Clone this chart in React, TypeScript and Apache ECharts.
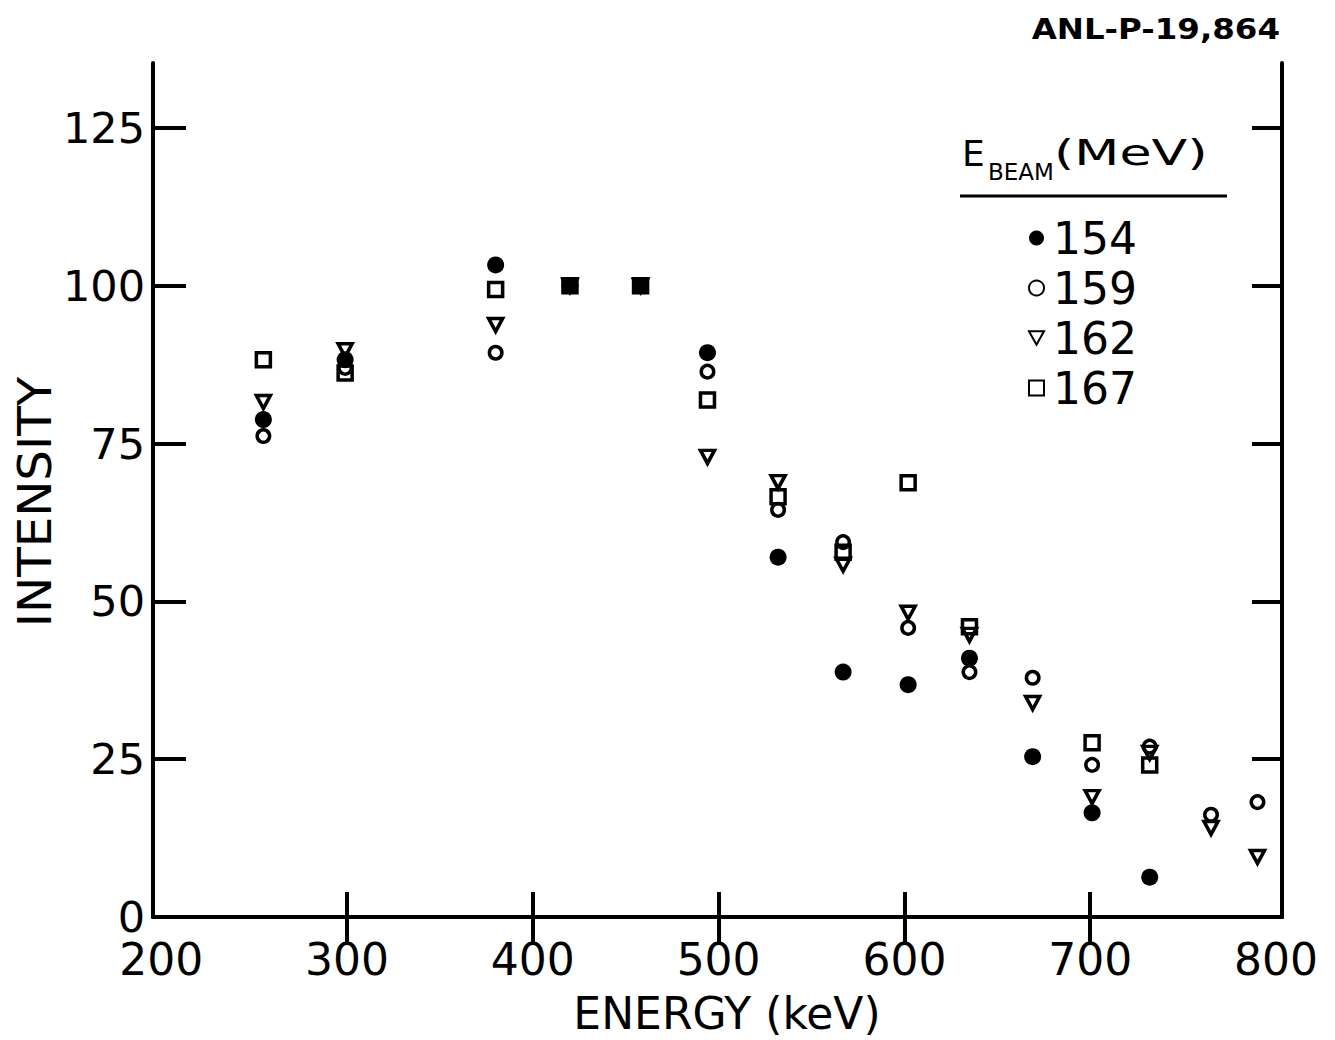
import React, { useEffect, useRef } from "react";
import * as echarts from "echarts";

// Energies (keV) and relative intensities
const energy154 = [255, 299, 380, 420, 458, 494, 532, 567, 602, 635, 669, 701, 732];
const intensity154 = [78.8, 88.3, 103.3, 100, 100, 89.4, 57.0, 38.8, 36.8, 41.0, 25.4, 16.5, 6.3];

const energy159 = [255, 299, 380, 420, 458, 494, 532, 567, 602, 635, 669, 701, 732, 765, 790];
const intensity159 = [76.2, 87.0, 89.4, 100, 100, 86.4, 64.5, 59.4, 45.8, 38.8, 37.9, 24.1, 27.0, 16.2, 18.2];

const energy162 = [255, 299, 380, 420, 458, 494, 532, 567, 602, 635, 669, 701, 732, 765, 790];
const intensity162 = [81.6, 89.8, 93.8, 100, 100, 72.9, 68.9, 55.8, 48.2, 44.7, 33.9, 19.0, 26.0, 14.1, 9.5];

const energy167 = [255, 299, 380, 420, 458, 494, 532, 567, 602, 635, 701, 732];
const intensity167 = [88.3, 86.2, 99.4, 100, 100, 81.9, 66.6, 57.8, 68.8, 46.0, 27.6, 24.1];

const xTickLabels = [200, 300, 400, 500, 600, 700, 800];
const xInnerTicks = [300, 400, 500, 600, 700];
const yTickLabels = [0, 25, 50, 75, 100, 125];
const yInnerTicks = [25, 50, 75, 100, 125];
const beamNames = ["154", "159", "162", "167"];

const FONT = "DejaVu Sans";
const DOWN_TRIANGLE = "path://M0,0L20,0L10,18Z";

function zip(xs: number[], ys: number[]) {
  return xs.map((x, i) => [x, ys[i]]);
}

export default function App() {
  const ref = useRef<HTMLDivElement>(null);
  useEffect(() => {
    if (!ref.current) return;
    const chart = echarts.init(ref.current, null, { renderer: "svg" });
    const axisLine = { show: true, lineStyle: { color: "#000", width: 4 } };
    const hollow = (sym: string, size: number | number[]) => ({
      type: "scatter",
      symbol: sym,
      symbolSize: size,
      itemStyle: { color: "rgba(255,255,255,0)", borderColor: "#000", borderWidth: 3.5, opacity: 1 },
    });
    chart.setOption({
      animation: false,
      backgroundColor: "#fff",
      textStyle: { fontFamily: FONT, color: "#000" },
      grid: { left: 153, right: 53, top: 63, bottom: 123, containLabel: false },
      xAxis: [
        {
          type: "value",
          position: "bottom",
          min: 195.6,
          max: 803.2,
          axisLine,
          splitLine: { show: false },
          axisTick: { show: true, inside: true, length: 25, customValues: xInnerTicks, lineStyle: { color: "#000", width: 4 } },
          axisLabel: { customValues: xTickLabels, fontSize: 44, lineHeight: 34, color: "#000", fontFamily: FONT, margin: 25 },
        },
        {
          type: "value",
          position: "top",
          min: 195.6,
          max: 803.2,
          axisLine,
          splitLine: { show: false },
          axisTick: { show: true, inside: true, length: 25, customValues: xInnerTicks, lineStyle: { color: "#000", width: 4 } },
          axisLabel: { show: false },
        },
      ],
      yAxis: [
        {
          type: "value",
          position: "left",
          min: 0,
          max: 135.3,
          axisLine,
          splitLine: { show: false },
          axisTick: { show: true, inside: true, length: 33, customValues: yInnerTicks, lineStyle: { color: "#000", width: 4 } },
          axisLabel: { customValues: yTickLabels, fontSize: 43, lineHeight: 30, color: "#000", fontFamily: FONT, margin: 8 },
        },
        {
          type: "value",
          position: "right",
          min: 0,
          max: 135.3,
          axisLine,
          splitLine: { show: false },
          axisTick: { show: true, inside: true, length: 30, customValues: yInnerTicks, lineStyle: { color: "#000", width: 4 } },
          axisLabel: { show: false },
        },
      ],
      legend: {
        data: [
          { name: beamNames[0] },
          { name: beamNames[1] },
          { name: beamNames[2], icon: DOWN_TRIANGLE },
          { name: beamNames[3] },
        ],
        orient: "vertical",
        left: 1023,
        top: 211,
        itemWidth: 15,
        itemHeight: 15,
        itemGap: 6,
        textStyle: { fontSize: 44, lineHeight: 44, color: "#000", fontFamily: FONT, padding: [0, 0, 0, 4] },
      },
      series: [
        { name: beamNames[3], ...hollow("rect", 14), data: zip(energy167, intensity167), z: 2 },
        { name: beamNames[2], ...hollow(DOWN_TRIANGLE, [14, 13]), data: zip(energy162, intensity162), z: 3 },
        { name: beamNames[1], ...hollow("circle", 12.5), data: zip(energy159, intensity159), z: 4 },
        {
          name: beamNames[0],
          type: "scatter",
          symbol: "circle",
          symbolSize: 17,
          itemStyle: { color: "#000", opacity: 1 },
          data: zip(energy154, intensity154),
          z: 5,
        },
      ],
      graphic: [
        {
          type: "text",
          x: 1280,
          y: 29,
          scaleX: 1.12,
          style: { text: "ANL-P-19,864", font: `bold 29px "${FONT}"`, fill: "#000", textAlign: "right", textVerticalAlign: "middle" },
        },
        {
          type: "text",
          x: 727,
          y: 1013,
          style: { text: "ENERGY (keV)", font: `44px "${FONT}"`, lineHeight: 40, fill: "#000", textAlign: "center", textVerticalAlign: "middle" },
        },
        {
          type: "text",
          x: 35,
          y: 502,
          rotation: Math.PI / 2,
          scaleX: 1.05,
          style: { text: "INTENSITY", font: `46px "${FONT}"`, fill: "#000", textAlign: "center", textVerticalAlign: "middle" },
        },
        {
          type: "text",
          x: 962,
          y: 153,
          style: { text: "E", font: `36px "${FONT}"`, fill: "#000", textAlign: "left", textVerticalAlign: "middle" },
        },
        {
          type: "text",
          x: 988,
          y: 172,
          style: { text: "BEAM", font: `23px "${FONT}"`, lineHeight: 20, fill: "#000", textAlign: "left", textVerticalAlign: "middle" },
        },
        {
          type: "text",
          x: 1054,
          y: 153,
          scaleX: 1.45,
          style: { text: "(MeV)", font: `36px "${FONT}"`, fill: "#000", textAlign: "left", textVerticalAlign: "middle" },
        },
        {
          type: "line",
          shape: { x1: 960, y1: 196, x2: 1227, y2: 196 },
          style: { stroke: "#000", lineWidth: 3 },
        },
      ],
    });
    return () => chart.dispose();
  }, []);
  return <div ref={ref} style={{ position: "absolute", left: 0, top: 0, width: 1335, height: 1040 }} />;
}
